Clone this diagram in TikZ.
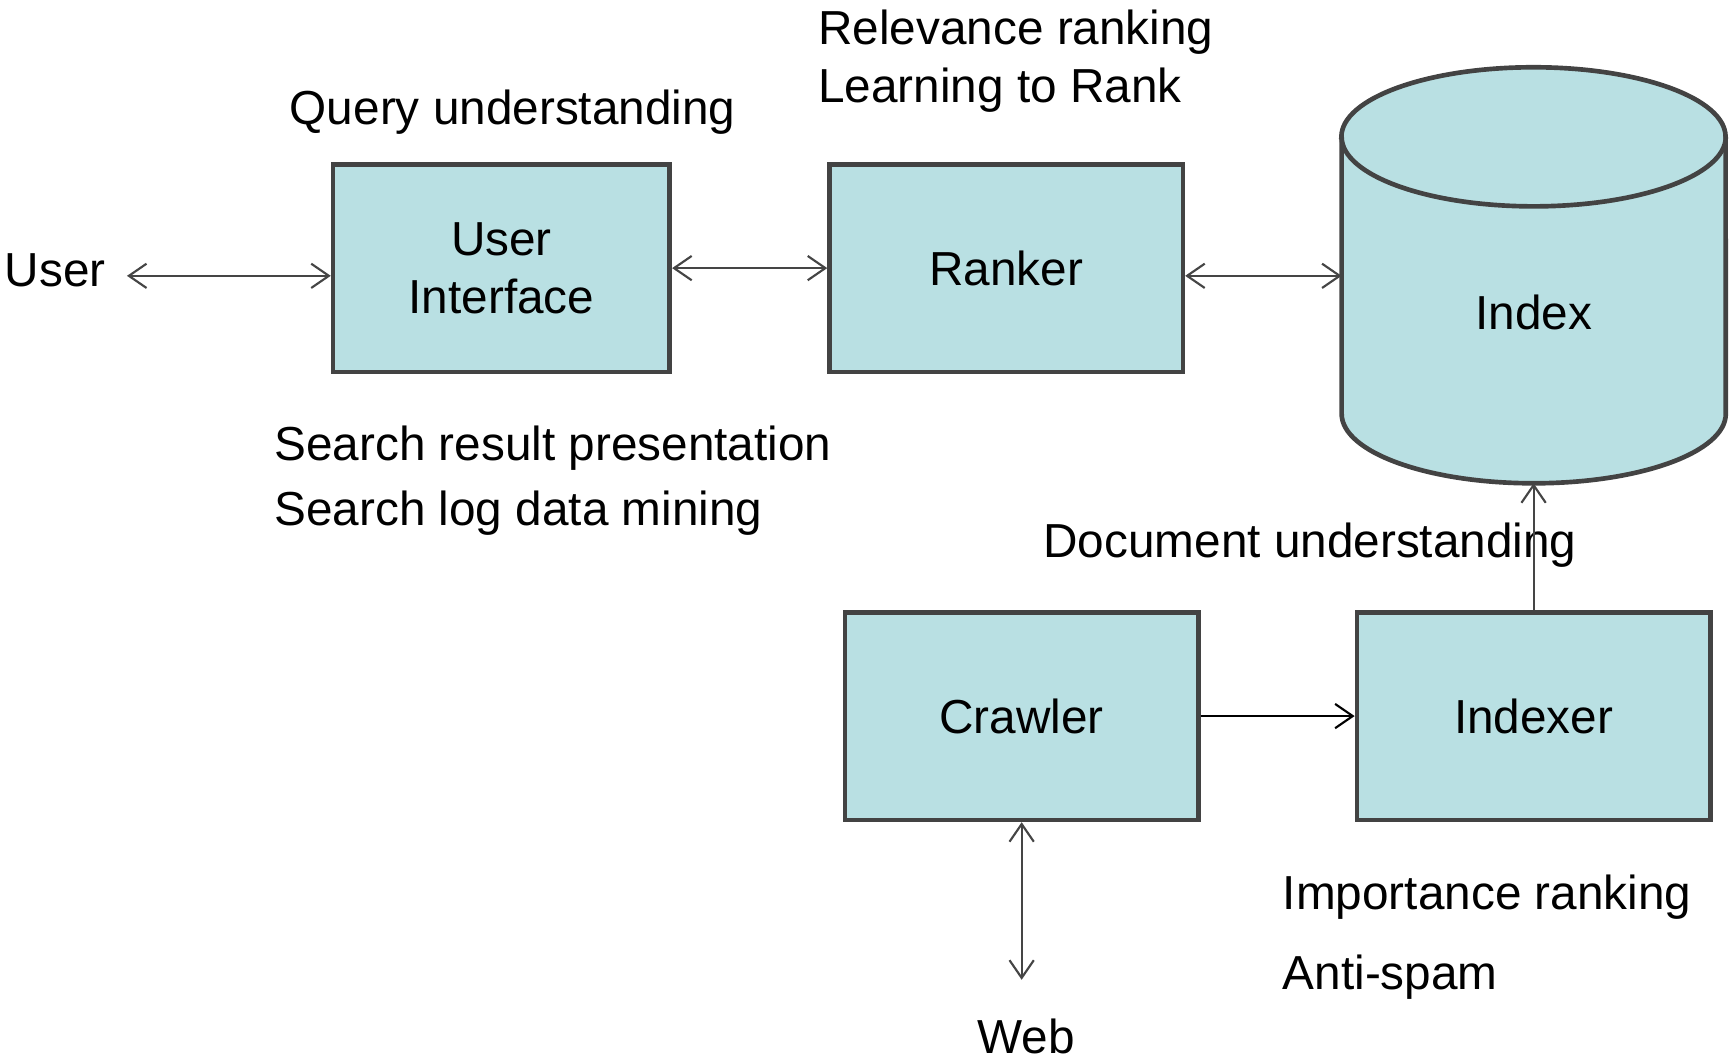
\documentclass[tikz,border=0pt]{standalone}
\usepackage{fontspec}
\setmainfont{Liberation Sans}
\usetikzlibrary{arrows.meta,positioning}
\definecolor{boxc}{HTML}{B9E0E3}
\definecolor{edgec}{HTML}{434343}
\definecolor{linec}{HTML}{454545}
\tikzset{
  box/.style={draw=edgec,line width=1.2pt,fill=boxc,align=center,inner sep=0pt,minimum height=1.88cm},
  dar/.style={{Straight Barb[length=1.6mm,width=2.2mm]}-{Straight Barb[length=1.6mm,width=2.2mm]},line width=0.55pt,linec},
  ar/.style={-{Straight Barb[length=1.6mm,width=2.2mm]},line width=0.55pt,linec},
  lbl/.style={anchor=base west,inner sep=0pt}
}
\begin{document}
\begin{tikzpicture}[x=0.01cm,y=-0.01cm,every node/.style={font=\fontsize{12.3}{14.8}\selectfont}]
\useasboundingbox (0,0) rectangle (1568,960);
% boxes
\node[box,minimum width=3.05cm] (ui) at (454.5,243) {User\\Interface};
\node[box,minimum width=3.2cm] (ranker) at (912,243) {Ranker};
\node[box,minimum width=3.2cm] (crawler) at (926,649) {Crawler};
\node[box,minimum width=3.2cm] (indexer) at (1390,649) {Indexer};
% index cylinder
\filldraw[fill=boxc,draw=edgec,line width=1.2pt] (1216,124) -- (1216,375)
  arc[start angle=180,end angle=360,x radius=1.74cm,y radius=0.63cm] -- (1564,124)
  arc[start angle=0,end angle=180,x radius=1.74cm,y radius=0.63cm] -- cycle;
\draw[edgec,line width=1.2pt] (1216,124) arc[start angle=180,end angle=360,x radius=1.74cm,y radius=0.63cm];
\node (index) at (1390,283) {Index};
\coordinate (idxl) at (1216,250);
\coordinate (idxb) at (1390,438);
% outside ends
\node (user) at (50,245) {User};
\coordinate (userr) at ([xshift=0.07cm,yshift=-0.05cm]user.east);
\coordinate (webend) at (926,888);
\node[lbl,anchor=base] (web) at (930,955) {Web};
% labels
\node[lbl] (relrank) at (741,40) {Relevance ranking};
\node[lbl] (ltr) at (741,93) {Learning to Rank};
\node[lbl] (query) at (262,113) {Query understanding};
\node[lbl] (srp) at (248,417) {Search result presentation};
\node[lbl] (slog) at (248,476) {Search log data mining};
\node[lbl] (docu) at (945,505) {Document understanding};
\node[lbl] (imprank) at (1162,824) {Importance ranking};
\node[lbl] (spam) at (1162,897) {Anti-spam};
% connectors
\draw[dar] (userr) -- (userr -| ui.west);
\draw[dar] (ui.east) -- (ranker.west);
\draw[dar] (idxl -| ranker.east) -- (idxl);
\draw[ar] (indexer.north) -- (idxb);
\draw[ar,black] (crawler.east) -- (indexer.west);
\draw[dar] (crawler.south) -- (webend);
\end{tikzpicture}
\end{document}
